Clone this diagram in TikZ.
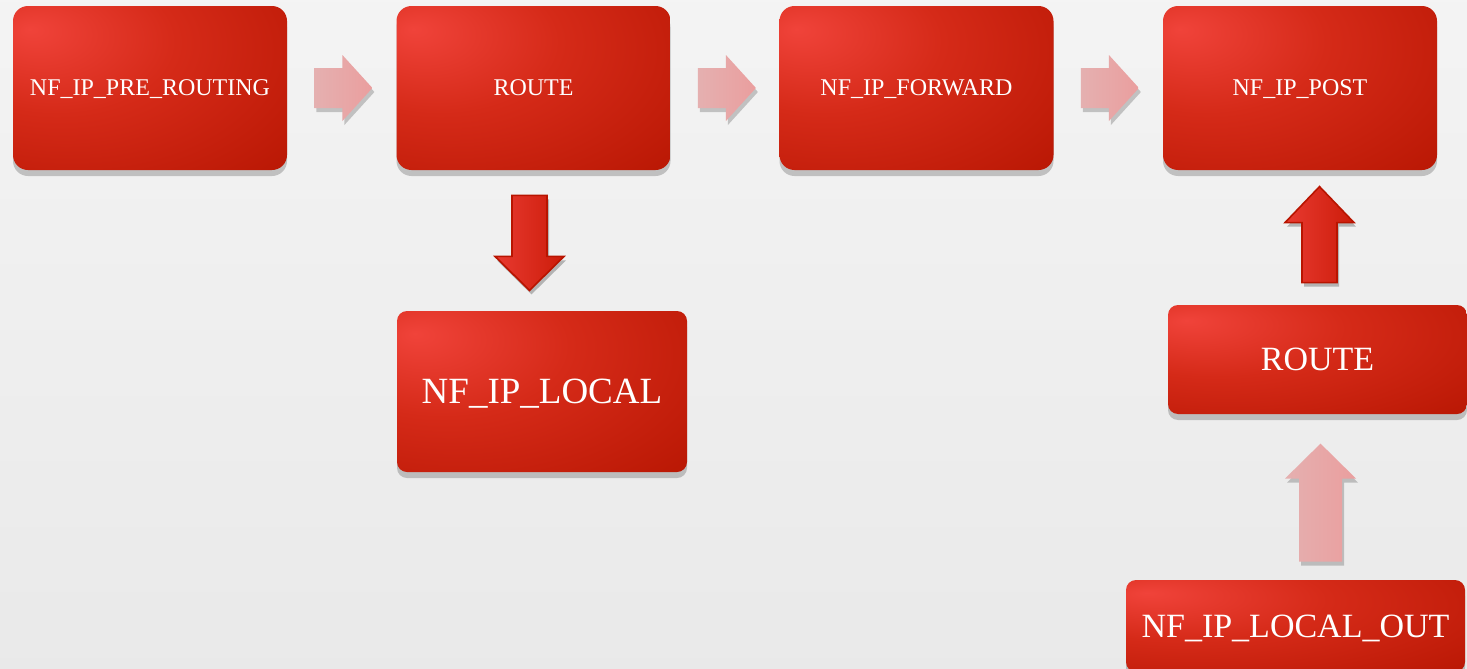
\documentclass[tikz,border=0pt]{standalone}
\usepackage{fontspec}
\setmainfont{Liberation Serif}
\usetikzlibrary{shadows,calc}
\definecolor{boxlight}{HTML}{F0433A}
\definecolor{boxmid}{HTML}{D52A18}
\definecolor{boxdark}{HTML}{B41400}
\definecolor{arrowred}{HTML}{CC1C0A}
\definecolor{arrowlight}{HTML}{E83A30}
\definecolor{arrowedge}{HTML}{B81400}
\definecolor{palepink}{HTML}{EA9E9E}
\definecolor{palelight}{HTML}{E5B0B0}
\pgfdeclareradialshading{hookshade}{\pgfpoint{-22bp}{18bp}}{color(0bp)=(boxlight); color(22bp)=(boxmid); color(55bp)=(boxdark); color(100bp)=(boxdark)}
\tikzset{
  hook/.style={rounded corners=7.5pt, shading=hookshade,
    text=white, font=\fontsize{12}{14}\selectfont, text depth=0pt,
    minimum width=137pt, minimum height=82pt,
    drop shadow={shadow xshift=0pt, shadow yshift=-3pt, opacity=0.2, fill=black}},
  bighook/.style={hook, rounded corners=5pt, font=\fontsize{17}{20}\selectfont},
  redarrow/.style={left color=arrowlight, right color=arrowred, draw=arrowedge, line width=0.8pt,
    drop shadow={shadow xshift=1pt, shadow yshift=-2pt, opacity=0.25, fill=black}},
  palearrow/.style={left color=palelight, right color=palepink,
    drop shadow={shadow xshift=1pt, shadow yshift=-2pt, opacity=0.2, fill=black}},
  pics/blockarrow/.style args={#1/#2/#3/#4/#5}{code={
    \path[#5] (0,-#2/2) -- (#1-#4,-#2/2) -- (#1-#4,-#3/2) -- (#1,0)
      -- (#1-#4,#3/2) -- (#1-#4,#2/2) -- (0,#2/2) -- cycle;
  }}
}
\begin{document}
\begin{tikzpicture}[x=0.5pt,y=-0.5pt]
  \fill[top color=gray!9, bottom color=gray!17] (0,0) rectangle (1467,669);
  \useasboundingbox (0,0) rectangle (1467,669);
  \begin{scope}
    \clip (0,0) rectangle (1467,669);

    % top row
    \node[hook] (pre) at (150,88) {NF\_IP\_PRE\_ROUTING};
    \node[hook] (route) at (533.5,88) {ROUTE};
    \node[hook] (forward) at (916.5,88) {NF\_IP\_FORWARD};
    \node[hook] (post) at (1300,88) {NF\_IP\_POST};

    % lower boxes
    \node[bighook, minimum width=145pt, minimum height=80.5pt,
      font=\fontsize{18.5}{22}\selectfont] (local) at (542,391.5) {NF\_IP\_LOCAL};
    \node[bighook, minimum width=149.5pt, minimum height=54.5pt] (outroute) at (1317.5,359.5) {ROUTE};
    \node[bighook, minimum width=169.5pt, minimum height=46pt] (localout) at (1295.5,626) {NF\_IP\_LOCAL\_OUT};

    % arrows
    \pic at ($(pre.east)+(27,0)$) {blockarrow=58/40/66/30/palearrow};
    \pic at ($(route.east)+(27,0)$) {blockarrow=58/40/66/30/palearrow};
    \pic at ($(forward.east)+(27,0)$) {blockarrow=58/40/66/30/palearrow};
    \pic[rotate=-90] at ($(route.south)+(-4,25)$) {blockarrow=95/35/69/34/redarrow};
    \pic[rotate=90] at ($(outroute.north)+(2,-22)$) {blockarrow=96/35/69/36/redarrow};
    \pic[rotate=90] at ($(localout.north)+(25,-18)$) {blockarrow=118/43/71/35/palearrow};
  \end{scope}
\end{tikzpicture}
\end{document}
